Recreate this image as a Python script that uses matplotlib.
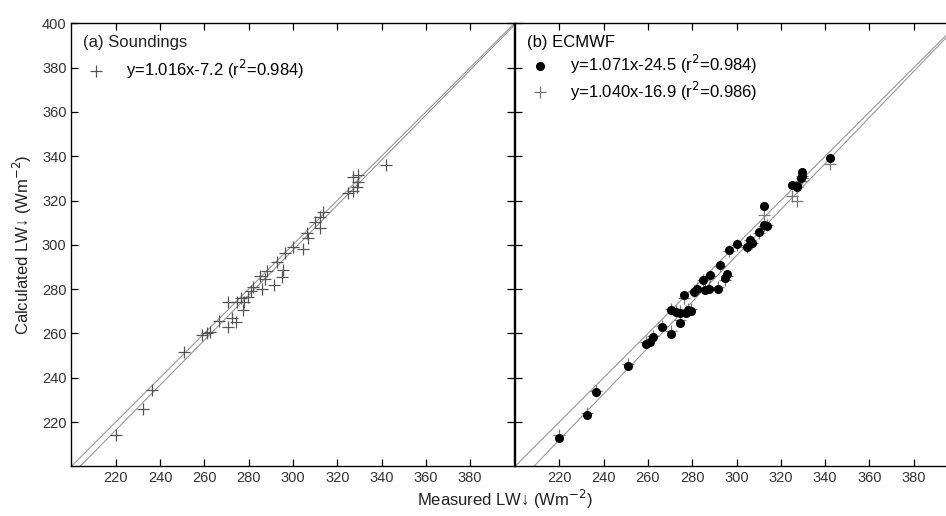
import matplotlib
matplotlib.use("Agg")
import matplotlib.pyplot as plt

plt.rcParams["font.family"] = ["Liberation Sans", "DejaVu Sans"]

# measured LW-down (shared by both panels), Wm-2
measured = [220, 232.5, 236.5, 251, 259, 261, 262.5, 266.5, 270.5, 270.5,
            272.5, 274.3, 274.6, 276.4, 277.3, 278, 279.5, 281, 282, 285,
            286, 287.5, 288.2, 291.5, 292.7, 295, 295.5, 296.4, 300.2, 304.7,
            306.3, 307, 310, 312.3, 312.3, 313.7, 325, 327.3, 327.3, 329.6,
            329.6, 329, 342]

# (a) calculated from soundings
calc_sound = [214, 226, 234.5, 251.5, 259.3, 260, 260.5, 265.5, 263, 274.3,
              267, 265.3, 274, 275.8, 270.6, 274, 276.5, 279, 281, 286,
              280, 284.5, 288, 282, 292.4, 285.6, 288.5, 296.2, 299, 298,
              305.2, 303, 310.4, 307.4, 312.6, 314.9, 323.5, 330.7, 324.5, 328.5,
              331.5, 326.3, 336]

# (b) calculated from ECMWF, two variants
calc_ecmwf_dot = [213, 223, 233.5, 245.4, 255.2, 256, 258.5, 262.8, 259.7, 270.6,
                  269.5, 264.6, 269, 277.3, 269, 270.6, 270, 278.8, 280, 284.1,
                  279.6, 280, 286.3, 279.9, 290.9, 285, 286.9, 297.7, 300.4, 299.2,
                  302.4, 301, 305.8, 308.9, 317.5, 308.4, 327, 326.2, 326.5, 333,
                  331, 330, 339.3]
calc_ecmwf_plus = [214, 224, 234, 246, 256, 257, 259, 263.5, 261, 271,
                   270, 266, 270, 276, 270, 271, 271, 279, 280.5, 284,
                   280.5, 281, 286, 281, 290.5, 284, 286, 297, 300, 299,
                   302, 301, 305.5, 308.5, 313.5, 309, 322, 320, 326, 331,
                   330, 329, 336.5]

fit_a = (1.016, -7.2)
fit_b = (1.040, -16.9)

xt = [220, 240, 260, 280, 300, 320, 340, 360, 380]
yt = [220, 240, 260, 280, 300, 320, 340, 360, 380, 400]
lim = (200, 400)

fig = plt.figure(figsize=(9.46, 5.16), dpi=100)
axa = fig.add_axes([0.0755, 0.0963, 0.4683, 0.8585])
axb = fig.add_axes([0.5444, 0.0963, 0.4683, 0.8585])

for ax in (axa, axb):
    ax.set_xlim(lim)
    ax.set_ylim(lim)
    ax.plot(lim, lim, color="#999999", lw=0.8, zorder=1)
    ax.set_xticks(xt)
    ax.set_yticks(yt)
    ax.tick_params(direction="in", length=5, width=0.9, top=True, right=True,
                   labelsize=10.5, colors="black", labelcolor="#333333")
    for sp in ax.spines.values():
        sp.set_linewidth(1.0)

axa.plot(lim, [fit_a[0] * v + fit_a[1] for v in lim], color="#999999", lw=0.8, zorder=1)
axa.plot(measured, calc_sound, ls="none", marker="+", ms=8, mew=0.9,
         color="#555555", label=r"y=1.016x-7.2 (r$^2$=0.984)")
leg = axa.legend(loc="upper left", frameon=False, title="(a) Soundings",
                 alignment="left", fontsize=12, title_fontsize=12,
                 borderaxespad=0.3, handletextpad=1.0, handlelength=1.6)
leg.get_title().set_color("#222222")

axb.plot(lim, [fit_b[0] * v + fit_b[1] for v in lim], color="#999999", lw=0.8, zorder=1)
axb.plot(measured, calc_ecmwf_dot, ls="none", marker="o", ms=5.5,
         color="black", zorder=3, label=r"y=1.071x-24.5 (r$^2$=0.984)")
axb.plot(measured, calc_ecmwf_plus, ls="none", marker="+", ms=8, mew=0.9,
         color="#777777", zorder=2, label=r"y=1.040x-16.9 (r$^2$=0.986)")
leg = axb.legend(loc="upper left", frameon=False, title="(b) ECMWF",
                 alignment="left", fontsize=12, title_fontsize=12,
                 borderaxespad=0.3, handletextpad=1.0, handlelength=1.6,
                 labelspacing=0.2)
axb.set_yticklabels([])

axa.set_ylabel(r"Calculated LW↓ (Wm$^{-2}$)", fontsize=12, color="#222222",
               labelpad=6)
fig.text(0.534, 0.01, r"Measured LW↓ (Wm$^{-2}$)", ha="center", va="bottom",
         fontsize=12, color="#222222")

fig.savefig("out.png", dpi=100)
